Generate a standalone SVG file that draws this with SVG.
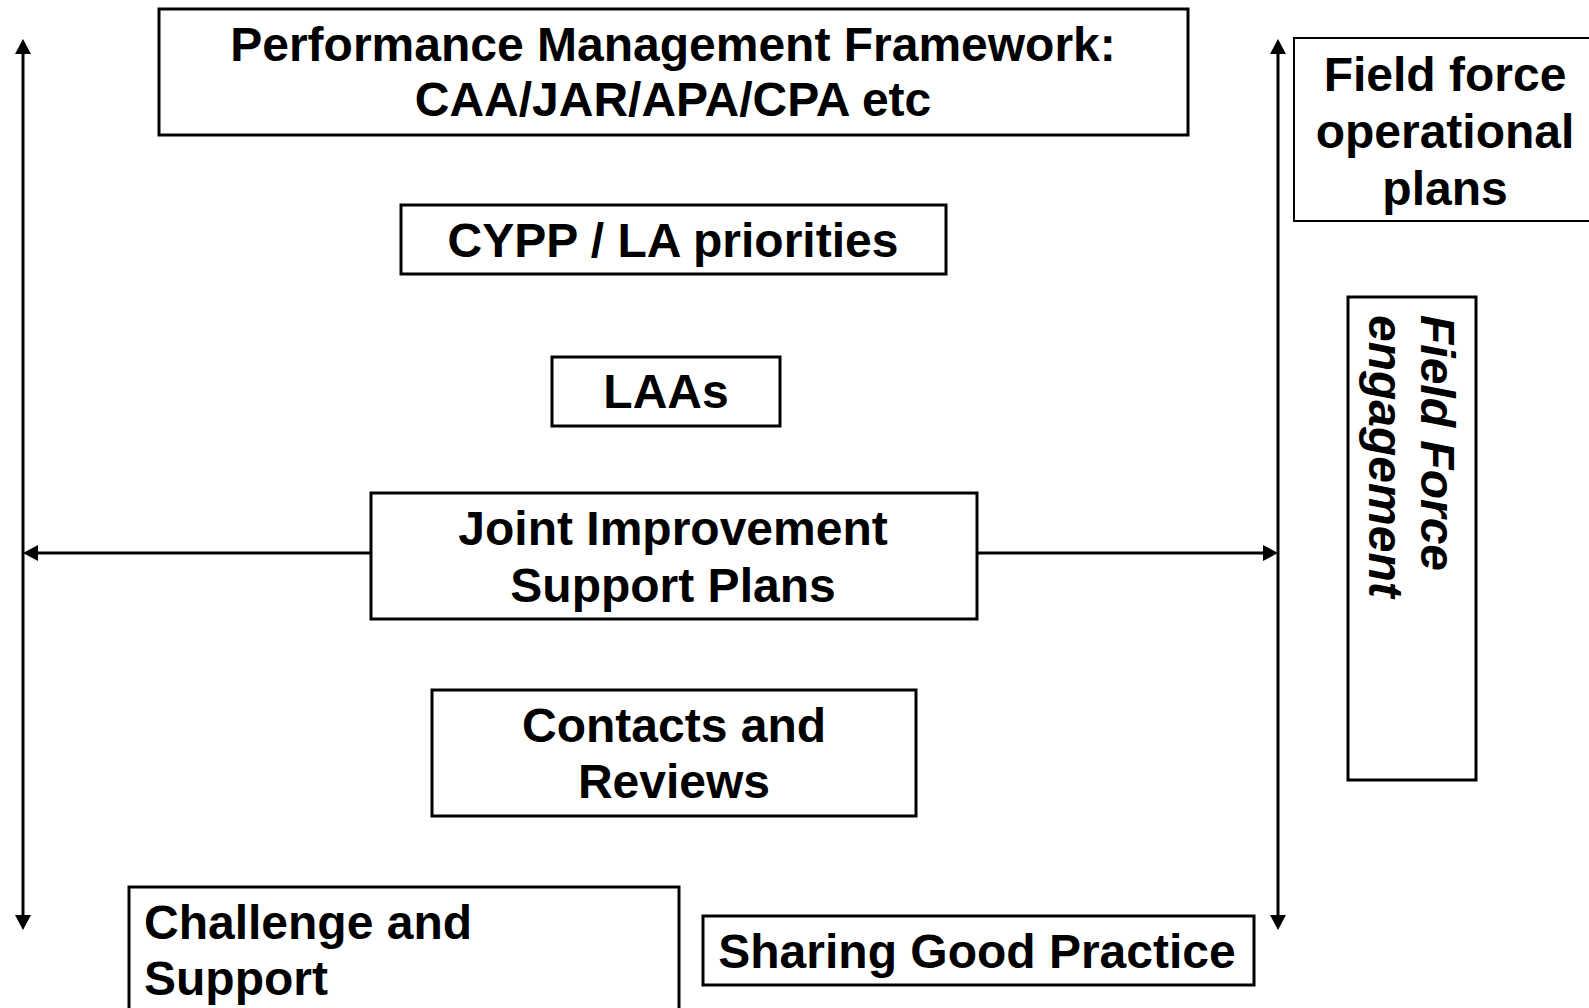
<svg xmlns="http://www.w3.org/2000/svg" width="1589" height="1008" viewBox="0 0 1589 1008">
<style>
.box{fill:#fff;stroke:#000;stroke-width:3}
.thin{fill:#fff;stroke:#000;stroke-width:2}
.t{font-family:"Liberation Sans",Arial,sans-serif;font-weight:bold;font-size:48px;fill:#000}
.c{text-anchor:middle}
.it{font-style:italic}
.conn{stroke:#000;stroke-width:3;fill:none}
</style>
<defs>
<marker id="ah" viewBox="0 0 15 16" refX="3" refY="8" markerWidth="15" markerHeight="16" markerUnits="userSpaceOnUse" orient="auto-start-reverse">
<path d="M0,0 L15,8 L0,16 z" fill="#000"/>
</marker>
</defs>
<rect width="1589" height="1008" fill="#fff"/>
<g id="connectors">
<path class="conn" d="M23,51 L23,918" marker-start="url(#ah)" marker-end="url(#ah)"/>
<path class="conn" d="M1278,51 L1278,918" marker-start="url(#ah)" marker-end="url(#ah)"/>
<path class="conn" d="M371,553 L35,553" marker-end="url(#ah)"/>
<path class="conn" d="M977,553 L1266,553" marker-end="url(#ah)"/>
</g>
<g id="pmf">
<rect class="box" x="159" y="9" width="1029" height="126"/>
<text class="t c" x="673" y="61">Performance Management Framework:</text>
<text class="t c" x="673" y="116">CAA/JAR/APA/CPA etc</text>
</g>
<g id="cypp">
<rect class="box" x="401" y="205" width="545" height="69"/>
<text class="t c" x="673" y="257">CYPP / LA priorities</text>
</g>
<g id="laas">
<rect class="box" x="552" y="357" width="228" height="69"/>
<text class="t c" x="666" y="408">LAAs</text>
</g>
<g id="jisp">
<rect class="box" x="371" y="493" width="606" height="126"/>
<text class="t c" x="673" y="545">Joint Improvement</text>
<text class="t c" x="673" y="602">Support Plans</text>
</g>
<g id="contacts">
<rect class="box" x="432" y="690" width="484" height="126"/>
<text class="t c" x="674" y="742">Contacts and</text>
<text class="t c" x="674" y="798">Reviews</text>
</g>
<g id="challenge">
<rect class="box" x="129" y="887" width="550" height="130"/>
<text class="t" x="144" y="939">Challenge and</text>
<text class="t" x="144" y="995">Support</text>
</g>
<g id="sharing">
<rect class="box" x="703" y="916" width="551" height="69"/>
<text class="t c" x="977" y="968">Sharing Good Practice</text>
</g>
<g id="fieldplans">
<rect class="thin" x="1294" y="38" width="310" height="183"/>
<text class="t c" x="1445" y="91">Field force</text>
<text class="t c" x="1445" y="148">operational</text>
<text class="t c" x="1445" y="205">plans</text>
</g>
<g id="engagement">
<rect class="box" x="1348" y="297" width="128" height="483"/>
<text class="t it" transform="translate(1421,315) rotate(90)"><tspan x="0" y="0">Field Force</tspan><tspan x="0" y="52">engagement</tspan></text>
</g>
</svg>
